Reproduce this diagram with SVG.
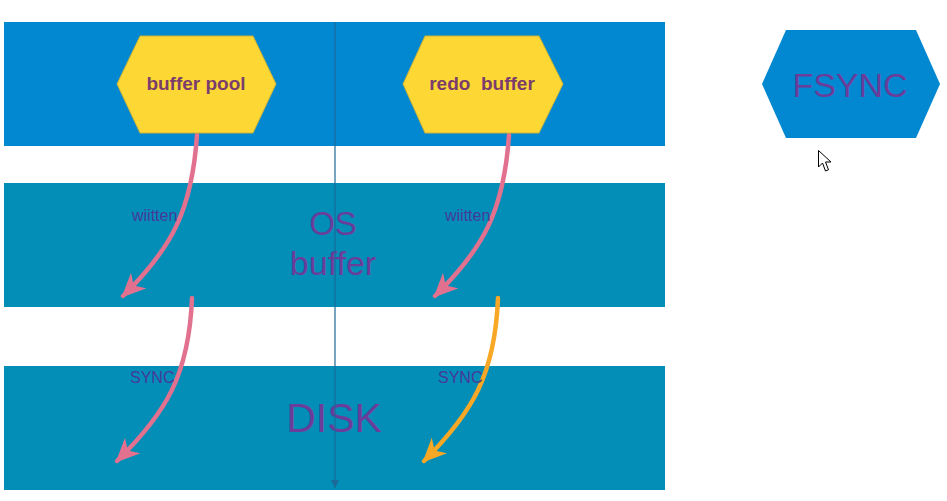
<svg xmlns="http://www.w3.org/2000/svg" width="947" height="501" viewBox="0 0 947 501">
<style>
.band{stroke:none}
.hex{fill:#FDD835;stroke:#C9B23A;stroke-width:1}
.hexlbl{font-family:"Liberation Sans",Arial,sans-serif;font-weight:bold;font-size:19px;fill:#7B3D6C;text-anchor:middle;white-space:pre}
.big{font-family:"Liberation Sans",Arial,sans-serif;fill:#6A3D9A;text-anchor:middle}
.small{font-family:"Liberation Sans",Arial,sans-serif;font-size:16px;fill:#46399A}
.pink{fill:none;stroke:#E2718F;stroke-width:4.5;stroke-linecap:round}
.orange{fill:none;stroke:#F9A825;stroke-width:4.5;stroke-linecap:round}
</style>
<defs>
<marker id="hp" markerUnits="userSpaceOnUse" markerWidth="26" markerHeight="22" refX="22" refY="11" orient="auto">
<path d="M0,0 L24,11 L0,22 L7,11 Z" fill="#E2718F"/>
</marker>
<marker id="ho" markerUnits="userSpaceOnUse" markerWidth="26" markerHeight="22" refX="22" refY="11" orient="auto">
<path d="M0,0 L24,11 L0,22 L7,11 Z" fill="#F9A825"/>
</marker>
<marker id="hv" markerUnits="userSpaceOnUse" markerWidth="10" markerHeight="8" refX="8" refY="4" orient="auto">
<path d="M0,0 L8,4 L0,8 Z" fill="#1B6A99"/>
</marker>
</defs>
<rect width="947" height="501" fill="#FFFFFF"/>
<g id="band-top"><rect class="band" x="4" y="22" width="661" height="124" fill="#0288D1"/></g>
<g id="band-os"><rect class="band" x="4" y="183" width="661" height="124" fill="#028EB7"/>
<text class="big" x="333" y="235" font-size="33">OS</text>
<text class="big" x="333" y="275" font-size="34">buffer</text></g>
<g id="band-disk"><rect class="band" x="4" y="366" width="661" height="124" fill="#028EB7"/>
<text class="big" x="334" y="432" font-size="41">DISK</text></g>
<g id="connectors">
<line x1="335" y1="22" x2="335" y2="488" stroke="#1B6A99" stroke-width="1.2" marker-end="url(#hv)"/>
<path class="pink" d="M197,135 C192,210 172,248 123,296" marker-end="url(#hp)"/>
<path class="pink" d="M509,135 C504,210 484,248 435,296" marker-end="url(#hp)"/>
<path class="pink" d="M192,298 C189,375 166,413 117,461" marker-end="url(#hp)"/>
<path class="orange" d="M498,298 C495,375 472,413 424,461" marker-end="url(#ho)"/>
<text class="small" x="132" y="221">wiitten</text>
<text class="small" x="445" y="221">wiitten</text>
<text class="small" x="130" y="383">SYNC</text>
<text class="small" x="438" y="383">SYNC</text>
</g>
<g id="buffer-pool">
<polygon class="hex" points="117,84 140,36 253,36 276,84 253,133 140,133"/>
<text class="hexlbl" x="196" y="90">buffer pool</text>
</g>
<g id="redo-buffer">
<polygon class="hex" points="403,84 425,36 539,36 563,84 539,133 425,133"/>
<text class="hexlbl" x="482" y="90">redo  buffer</text>
</g>
<g id="fsync">
<polygon points="762,84 786,30 916,30 940,84 916,138 786,138" fill="#0288D1"/>
<text class="big" x="850" y="97" font-size="34">FSYNC</text>
</g>
<g id="cursor">
<path d="M818.5,150.5 L818.5,167 L822.5,163 L825.5,171 L828.5,169.8 L825.5,162 L831,162 Z" fill="#FFFFFF" stroke="#000000" stroke-width="1"/>
</g>
</svg>
